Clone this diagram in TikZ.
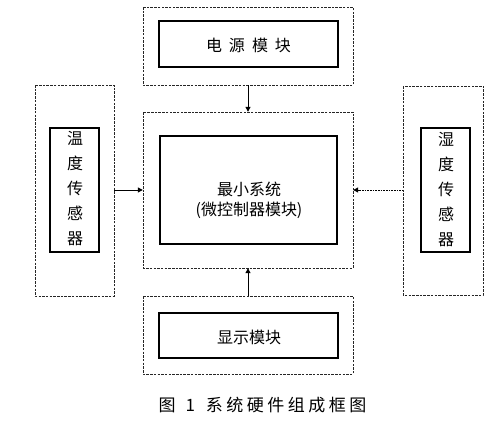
\documentclass[tikz,border=0pt]{standalone}
\usepackage{fontspec}
\newfontfamily\cjk{Noto Sans CJK SC}
\usetikzlibrary{arrows.meta}
\newcommand{\gp}{\hspace{3.5pt}}
\begin{document}
\begin{tikzpicture}[x=1pt,y=-1pt,
  outerbox/.style={draw=black!85,dash pattern=on 2.5pt off 1.2pt,line width=1pt},
  innerbox/.style={draw=black,line width=1.4pt},
  lab/.style={font=\cjk\fontsize{16}{20}\selectfont,align=center},
  vlab/.style={font=\cjk\fontsize{16}{25}\selectfont,align=center},
  conn/.style={line width=1pt,-{Triangle[length=5pt,width=5pt]}},
  dotconn/.style={line width=1pt,dash pattern=on 1pt off 0.6pt,-{Triangle[length=5pt,width=5pt]}}]
\useasboundingbox (0,0) rectangle (491,423);
% outer dashed boxes
\draw[outerbox] (143,7) rectangle (353,85);
\node[minimum width=210pt,minimum height=78pt] (topo) at (248,46) {};
\draw[outerbox] (143,112) rectangle (353,268);
\node[minimum width=210pt,minimum height=156pt] (cen) at (248,190) {};
\draw[outerbox] (35,85) rectangle (114,296);
\node[minimum width=79pt,minimum height=211pt] (lefto) at (74.5,190.5) {};
\draw[outerbox] (403,86) rectangle (483,295);
\node[minimum width=80pt,minimum height=209pt] (righto) at (443,190.5) {};
\draw[outerbox] (143,296) rectangle (353,374);
\node[minimum width=210pt,minimum height=78pt] (boto) at (248,335) {};
% inner solid boxes
\node[innerbox,minimum width=179pt,minimum height=46pt] (power) at (248.5,44) {};
\node[lab] (powert) at (248.5,45.5) {电\hspace{7pt}源\hspace{7pt}模\hspace{7pt}块};
\node[innerbox,minimum width=177pt,minimum height=108pt] (mcu) at (248.5,190) {};
\node[lab] (mcut) at (249,200) {最小系统\\(微控制器模块)};
\node[innerbox,minimum width=49pt,minimum height=124pt] (temp) at (74.5,190) {};
\node[vlab] (tempt) at (75,189) {温\\度\\传\\感\\器};
\node[innerbox,minimum width=49pt,minimum height=124pt] (hum) at (445.5,190) {};
\node[vlab] (humt) at (446,190) {湿\\度\\传\\感\\器};
\node[innerbox,minimum width=179pt,minimum height=45pt] (disp) at (248.5,335.5) {};
\node[lab] (dispt) at (249,337) {显示模块};
% connectors
\draw[conn] (topo.south) -- (cen.north);
\draw[conn] (boto.north) -- (cen.south);
\draw[conn] (lefto.east |- 0,190) -- (cen.west |- 0,190);
\draw[dotconn] (righto.west |- 0,190) -- (cen.east |- 0,190);
% caption
\node[font=\cjk\fontsize{17}{18}\selectfont] (cap) at (262.5,405) {图\hspace{10pt}1\hspace{11pt}系\gp 统\gp 硬\gp 件\gp 组\gp 成\gp 框\gp 图};
\end{tikzpicture}
\end{document}
